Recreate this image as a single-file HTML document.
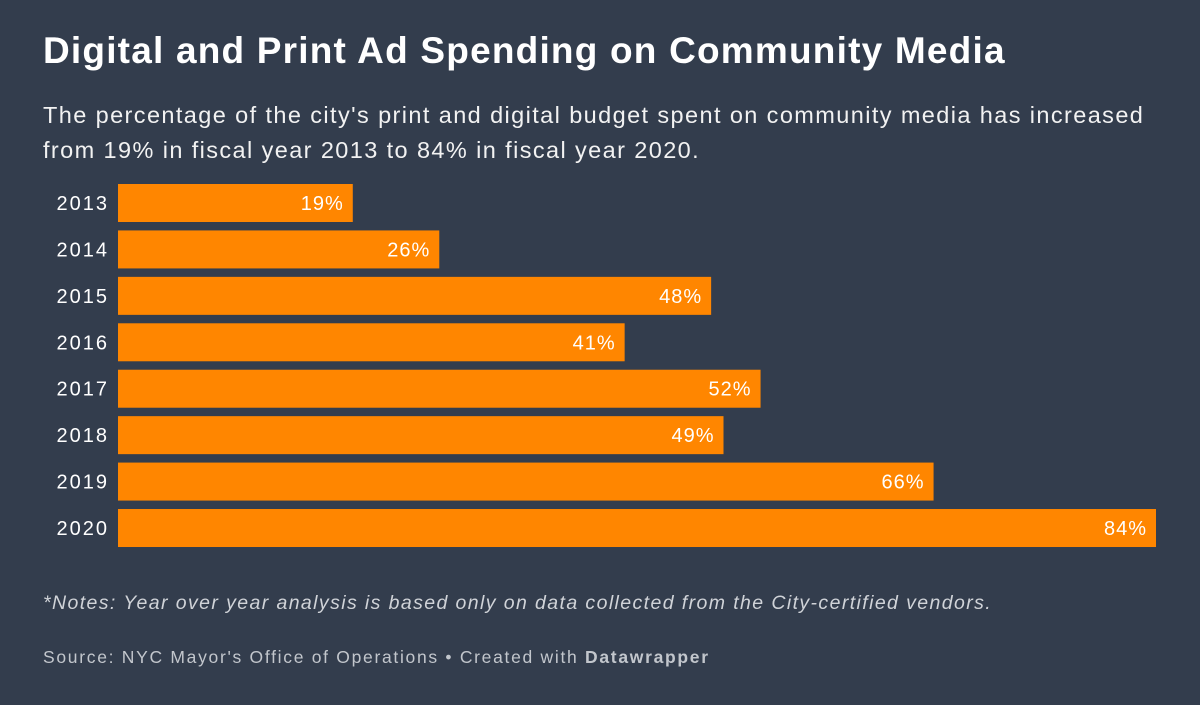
<!DOCTYPE html>
<html><head><meta charset="utf-8">
<style>
body{margin:0;width:1200px;height:705px;background:#333d4d;font-family:"Liberation Sans",sans-serif;color:#fff;overflow:hidden;position:relative}
.t{position:absolute;left:43px;top:30px;font-size:37px;font-weight:bold;letter-spacing:1.2px;white-space:nowrap}
.s{position:absolute;left:43px;top:98px;font-size:23.5px;line-height:35px;width:1160px;color:#f2f2f2;letter-spacing:1.4px;white-space:nowrap}
.n{position:absolute;left:43px;top:592px;font-size:19.5px;font-style:italic;color:#d0d3d8;letter-spacing:1.4px;white-space:nowrap}
.src{position:absolute;left:43px;top:647px;font-size:17.5px;color:#c2c6cc;letter-spacing:1.7px;white-space:nowrap}
</style></head><body>
<div class="t">Digital and Print Ad Spending on Community Media</div>
<div class="s">The percentage of the city's print and digital budget spent on community media has increased<br>from 19% in fiscal year 2013 to 84% in fiscal year 2020.</div>
<svg id="c" width="1200" height="705" style="position:absolute;left:0;top:0"></svg>
<div class="n">*Notes: Year over year analysis is based only on data collected from the City-certified vendors.</div>
<div class="src">Source: NYC Mayor's Office of Operations • Created with <b>Datawrapper</b></div>
<script>
const years=["2013","2014","2015","2016","2017","2018","2019","2020"];
const values=[19,26,48,41,52,49,66,84];
const labels=["19%","26%","48%","41%","52%","49%","66%","84%"];
const x0=118,pxPer=1038/84,y0=184,pitch=46.43,bh=38;
const xs=v=>v*pxPer;
const ys=i=>y0+i*pitch;
const svg=document.getElementById('c');
const NS="http://www.w3.org/2000/svg";
years.forEach((y,i)=>{
  const r=document.createElementNS(NS,'rect');
  r.setAttribute('x',x0);r.setAttribute('y',ys(i));
  r.setAttribute('width',xs(values[i]));r.setAttribute('height',bh);
  r.setAttribute('fill','#ff8600');
  
  
  svg.appendChild(r);
  const t=document.createElementNS(NS,'text');
  t.setAttribute('x',109);t.setAttribute('y',ys(i)+bh/2+7);
  t.setAttribute('text-anchor','end');t.setAttribute('fill','#fff');
  t.setAttribute('letter-spacing','2');
  t.setAttribute('font-size','20');t.textContent=y;
  
  
  svg.appendChild(t);
  const v=document.createElementNS(NS,'text');
  v.setAttribute('x',x0+xs(values[i])-9);v.setAttribute('y',ys(i)+bh/2+7);
  v.setAttribute('text-anchor','end');v.setAttribute('fill','#fff');
  v.setAttribute('letter-spacing','1');
  v.setAttribute('font-size','20');v.textContent=labels[i];
  
  
  svg.appendChild(v);
});
</script>
</body></html>
